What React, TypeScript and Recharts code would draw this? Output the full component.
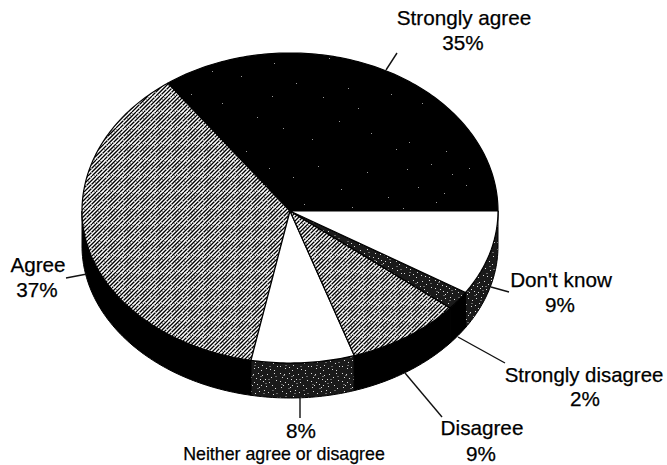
import React from "react";
import { PieChart, Pie } from "recharts";

const categories = ["Strongly agree", "Agree", "Neither agree or disagree", "Disagree", "Strongly disagree", "Don't know"];
const shares = [35, 37, 8, 9, 2, 9];
const rows = categories.map((name, i) => ({ name, value: shares[i] }));

// Styling and layout, kept apart from the values
const topFills = ["url(#specks)", "url(#hatch)", "#fff", "url(#hatch)", "url(#stipple)", "#fff"];
const wallFills = ["#000", "#000", "url(#stipple)", "#000", "#000", "url(#stipple)"];
const FONT = "'Liberation Sans', Arial, sans-serif";
const LABELS = [
  { nx: 464, ny: 25, px: 463, py: 50, ns: 20.7, line: [386, 70, 397, 53] },
  { nx: 38, ny: 272, px: 37, py: 297, ns: 20.7, line: [66, 278, 87, 274] },
  { nx: 284, ny: 460, px: 301, py: 438, ns: 17.8, line: [300, 398, 300, 418] },
  { nx: 482, ny: 435, px: 481, py: 461, ns: 20.7, line: [405, 373, 442, 417] },
  { nx: 584, ny: 382, px: 585, py: 406, ns: 20.4, line: [458, 337, 505, 363] },
  { nx: 561, ny: 287, px: 560, py: 312, ns: 20.7, line: [491, 287, 509, 292] },
];
const DEPTH = 35;
const RY_UP = 158 / 208;
const RY_DOWN = 152 / 208;

const hatchLines = [-16, -12, -8, -4, 0, 4, 8, 12, 16, 20, 24, 28];
const hatchSpecks = [[2, 3], [9, 1], [14, 6], [5, 9], [11, 12], [1, 14], [7, 5], [13, 15], [4, 1], [10, 8]];
const blackSpecks = [
  [7, 9], [31, 4], [52, 14], [18, 27], [44, 33], [66, 25], [3, 48], [29, 56], [58, 52], [74, 63], [12, 71],
  [41, 76], [69, 8], [36, 42], [93, 17], [118, 6], [141, 29], [167, 12], [188, 37], [104, 44], [129, 58],
  [152, 47], [176, 66], [96, 83], [123, 97], [148, 88], [191, 94], [22, 103], [57, 117], [83, 128],
  [112, 139], [139, 121], [171, 133], [9, 142], [46, 151], [72, 96], [196, 149], [158, 108],
];
const stippleSpecks = [
  [1, 1], [5, 2], [10, 1], [14, 3], [3, 5], [8, 6], [12, 7], [1, 9], [6, 10], [15, 9], [4, 13], [9, 12],
  [13, 13], [11, 15], [2, 15], [19, 2], [23, 5], [17, 7], [21, 10], [26, 1], [28, 8], [18, 14], [24, 13],
  [27, 16], [16, 18], [20, 20], [25, 22], [29, 25], [3, 19], [7, 21], [11, 19], [14, 24], [1, 25], [6, 27],
  [10, 26], [18, 27], [22, 28], [26, 29], [13, 29],
];
const stippleGrey = [[4, 3], [12, 4], [20, 7], [27, 4], [2, 12], [9, 16], [17, 11], [24, 18], [6, 24], [15, 21], [28, 21], [21, 25]];

const pt = (cx: number, cy: number, r: number, deg: number, dy = 0) => {
  const a = (deg * Math.PI) / 180;
  const s = Math.sin(a);
  return [cx + r * Math.cos(a), cy - r * s * (s > 0 ? RY_UP : RY_DOWN) + dy];
};

const arc = (cx: number, cy: number, r: number, from: number, to: number, dy = 0) => {
  const out: number[][] = [];
  const n = Math.max(2, Math.ceil(Math.abs(to - from)));
  for (let i = 0; i <= n; i++) out.push(pt(cx, cy, r, from + ((to - from) * i) / n, dy));
  return out;
};

const toPath = (pts: number[][]) =>
  "M" + pts.map((p) => `${p[0].toFixed(2)},${p[1].toFixed(2)}`).join("L") + "Z";

const Slice = (props: any) => {
  const { cx, cy, outerRadius, startAngle, endAngle, name } = props;
  const i = categories.indexOf(name);
  const lo = Math.min(startAngle, endAngle);
  const hi = Math.max(startAngle, endAngle);
  const wallFrom = Math.max(lo, 180);
  const top = [[cx, cy], ...arc(cx, cy, outerRadius, lo, hi)];
  return (
    <g>
      {hi > 180 && (
        <path
          d={toPath([
            ...arc(cx, cy, outerRadius, wallFrom, hi),
            ...arc(cx, cy, outerRadius, hi, wallFrom, DEPTH),
          ])}
          fill={wallFills[i]}
          stroke="#000"
          strokeWidth={1}
        />
      )}
      <path d={toPath(top)} fill={topFills[i]} stroke="#000" strokeWidth={1.2} strokeLinejoin="round" />
    </g>
  );
};

const Label = (props: any) => {
  const i = categories.indexOf(props.name);
  const l = LABELS[i];
  const common = { fontFamily: FONT, textAnchor: "middle" as const, fill: "#000", stroke: "#000", strokeWidth: 0.25 };
  return (
    <g>
      <line x1={l.line[0]} y1={l.line[1]} x2={l.line[2]} y2={l.line[3]} stroke="#111" strokeWidth={1.4} />
      <text x={l.nx} y={l.ny} fontSize={l.ns} {...common}>{categories[i]}</text>
      <text x={l.px} y={l.py} fontSize={20.7} {...common}>{`${shares[i]}%`}</text>
    </g>
  );
};

export default function App() {
  return (
    <div style={{ position: "absolute", left: 0, top: 0, width: 667, height: 465, background: "#fff" }}>
      <PieChart width={667} height={465} margin={{ top: 0, right: 0, bottom: 0, left: 0 }}>
        <defs>
          <pattern id="hatch" patternUnits="userSpaceOnUse" width={16} height={16}>
            <rect width={16} height={16} fill="#fff" />
            {hatchLines.map((k) => (
              <line key={k} x1={k} y1={16} x2={k + 16} y2={0} stroke="#000" strokeWidth={1.25} />
            ))}
            {hatchSpecks.map(([x, y]) => (
              <rect key={`${x}-${y}`} x={x} y={y} width={2} height={1} fill="#999" />
            ))}
          </pattern>
          <pattern id="specks" patternUnits="userSpaceOnUse" width={200} height={160}>
            <rect width={200} height={160} fill="#000" />
            {blackSpecks.map(([x, y]) => (
              <rect key={`${x}-${y}`} x={x} y={y} width={1} height={1} fill="#999" />
            ))}
          </pattern>
          <pattern id="stipple" patternUnits="userSpaceOnUse" width={31} height={31}>
            <rect width={31} height={31} fill="#1a1a1a" />
            {stippleSpecks.map(([x, y]) => (
              <rect key={`${x}-${y}`} x={x} y={y} width={1} height={1} fill="#ddd" />
            ))}
            {stippleGrey.map(([x, y]) => (
              <rect key={`${x}-${y}`} x={x} y={y} width={2} height={1} fill="#666" />
            ))}
          </pattern>
        </defs>
        <Pie
          data={rows}
          dataKey="value"
          nameKey="name"
          cx={290}
          cy={211}
          innerRadius={0}
          outerRadius={208}
          startAngle={0}
          endAngle={360}
          paddingAngle={0}
          stroke="none"
          shape={Slice}
          label={Label}
          labelLine={false}
          isAnimationActive={false}
        />
      </PieChart>
    </div>
  );
}
